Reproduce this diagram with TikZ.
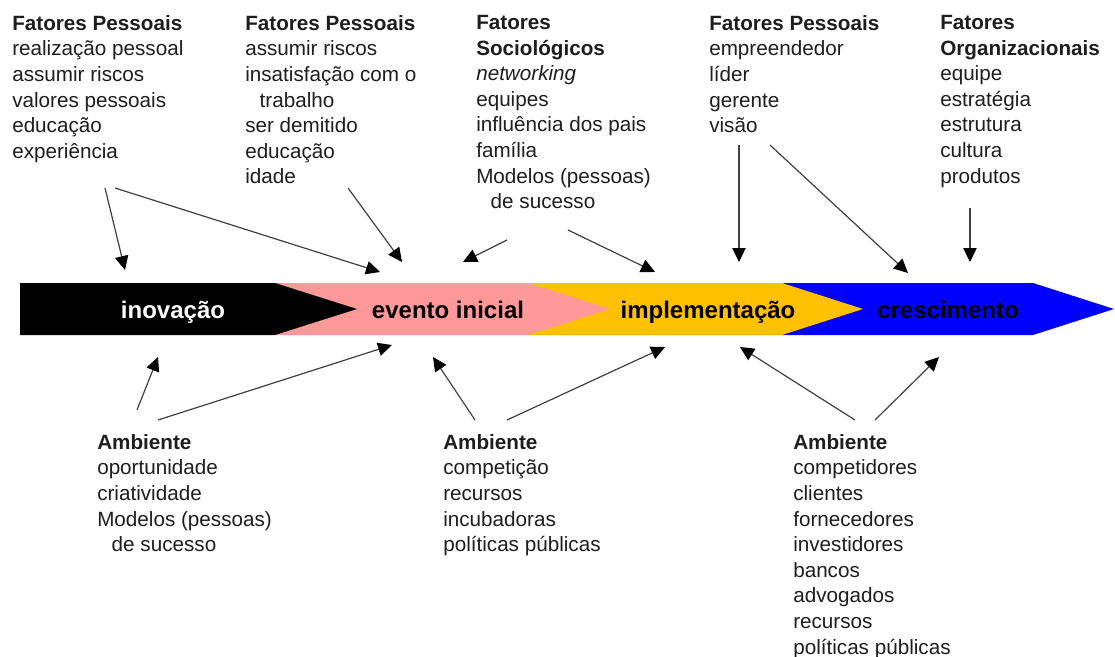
\documentclass[tikz,border=0pt]{standalone}
\usepackage{fontspec}
\setmainfont{Liberation Sans}
\usetikzlibrary{arrows.meta}
\definecolor{stagepink}{HTML}{FF9999}
\definecolor{stageyellow}{HTML}{FFC000}
\definecolor{stageblue}{HTML}{0000FF}
\definecolor{txtgray}{HTML}{1E1E1E}
\definecolor{linkgray}{HTML}{404040}
\tikzset{
	stage/.style  = {anchor=base, inner sep=0pt, font=\bfseries\fontsize{18}{20}\selectfont},
	factor/.style = {anchor=north west, align=left, inner sep=0pt,
		font=\fontsize{15.5}{19.2}\selectfont, text=txtgray},
	link/.style   = {->, line width=0.9pt, draw=linkgray}
}
\newcommand{\recuo}{\hspace*{0.7em}}

\begin{document}
\begin{tikzpicture}[x=0.75pt, y=-0.75pt, >={Triangle[length=10.5pt,width=10pt,color=black]}]
	\useasboundingbox (0,0) rectangle (1115,657);
	\fill[white] (0,0) rectangle (1115,657);

	% faixa das etapas
	\fill[stageblue] (782,283) -- (1033,283) -- (1114,309) -- (1033,335) -- (782,335) -- cycle;
	\fill[stageyellow] (528,283) -- (782,283) -- (863,309) -- (782,335) -- (528,335) -- cycle;
	\fill[stagepink] (275,283) -- (528,283) -- (610,309) -- (528,335) -- (275,335) -- cycle;
	\fill[black] (20,283) -- (275,283) -- (357,309) -- (275,335) -- (20,335) -- cycle;

	\draw
	node at (173,318)[stage, text=white] (inov) {inovação}
	node at (448,318)[stage] (evento) {evento inicial}
	node at (708,318)[stage] (impl) {implementação}
	node at (948,318)[stage] (cresc) {crescimento};

	% fatores (acima)
	\draw
	node at (12,15)[factor] (fp1) {\textbf{Fatores Pessoais}\\realização pessoal\\assumir riscos\\valores pessoais\\educação\\experiência}
	node at (245,15)[factor] (fp2) {\textbf{Fatores Pessoais}\\assumir riscos\\insatisfação com o\\\recuo trabalho\\ser demitido\\educação\\idade}
	node at (476,15)[factor] (soc) {\textbf{Fatores}\\\textbf{Sociológicos}\\\textit{networking}\\equipes\\influência dos pais\\família\\Modelos (pessoas)\\\recuo de sucesso}
	node at (709,15)[factor] (fp3) {\textbf{Fatores Pessoais}\\empreendedor\\líder\\gerente\\visão}
	node at (940,15)[factor] (org) {\textbf{Fatores}\\\textbf{Organizacionais}\\equipe\\estratégia\\estrutura\\cultura\\produtos};

	% ambiente (abaixo)
	\draw
	node at (97,434)[factor] (amb1) {\textbf{Ambiente}\\oportunidade\\criatividade\\Modelos (pessoas)\\\recuo de sucesso}
	node at (443,434)[factor] (amb2) {\textbf{Ambiente}\\competição\\recursos\\incubadoras\\políticas públicas}
	node at (793,434)[factor] (amb3) {\textbf{Ambiente}\\competidores\\clientes\\fornecedores\\investidores\\bancos\\advogados\\recursos\\políticas públicas};

	% pontas das setas
	\coordinate (t1s) at (105,188); \coordinate (t1e) at (125,270);
	\coordinate (t2s) at (115,188); \coordinate (t2e) at (380,272);
	\coordinate (t3s) at (348,188); \coordinate (t3e) at (402,262);
	\coordinate (t4s) at (507,240); \coordinate (t4e) at (463,262);
	\coordinate (t5s) at (568,230); \coordinate (t5e) at (655,272);
	\coordinate (t6s) at (739,145); \coordinate (t6e) at (739,262);
	\coordinate (t7s) at (770,145); \coordinate (t7e) at (908,273);
	\coordinate (t8s) at (970,208); \coordinate (t8e) at (970,262);
	\coordinate (b1s) at (137,410); \coordinate (b1e) at (158,357);
	\coordinate (b2s) at (158,420); \coordinate (b2e) at (392,345);
	\coordinate (b3s) at (475,420); \coordinate (b3e) at (433,357);
	\coordinate (b4s) at (507,420); \coordinate (b4e) at (665,347);
	\coordinate (b5s) at (855,420); \coordinate (b5e) at (740,347);
	\coordinate (b6s) at (875,420); \coordinate (b6e) at (939,357);

	\foreach \a in {t1,t2,t3,t4,t5,t6,t7,t8,b1,b2,b3,b4,b5,b6}
		\draw[link] (\a s) -- (\a e);
\end{tikzpicture}
\end{document}
